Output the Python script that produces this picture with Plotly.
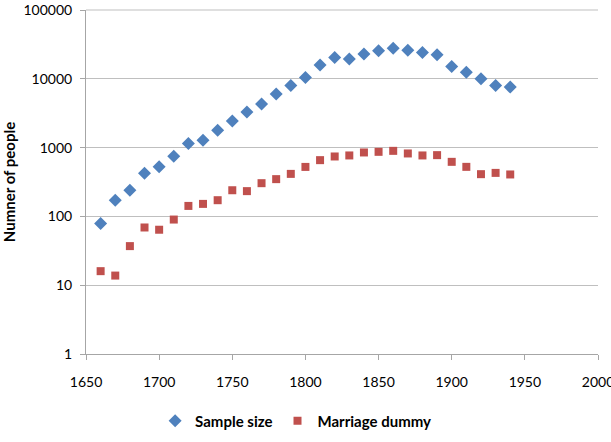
import plotly.graph_objects as go

years = [1660, 1670, 1680, 1690, 1700, 1710, 1720, 1730, 1740, 1750,
         1760, 1770, 1780, 1790, 1800, 1810, 1820, 1830, 1840, 1850,
         1860, 1870, 1880, 1890, 1900, 1910, 1920, 1930, 1940]
sample_size = [79, 172, 240, 425, 525, 750, 1150, 1280, 1790, 2430,
               3280, 4290, 5990, 8020, 10480, 15850, 20400, 19350, 22900, 25500,
               27700, 25900, 24200, 22300, 15150, 12500, 10000, 8020, 7570]
marriage_dummy = [16, 13.8, 37, 69, 64, 90, 142, 152, 172, 240,
                  233, 304, 348, 415, 524, 657, 743, 769, 850, 868,
                  897, 822, 769, 777, 621, 525, 411, 429, 407]
x_ticks = [1650, 1700, 1750, 1800, 1850, 1900, 1950, 2000]
y_ticks = [1, 10, 100, 1000, 10000, 100000]

fig = go.Figure()
fig.add_trace(go.Scatter(x=years, y=sample_size, mode="markers", name="Sample size",
                         marker=dict(symbol="diamond", size=10, color="#4F81BD")))
fig.add_trace(go.Scatter(x=years, y=marriage_dummy, mode="markers", name="Marriage dummy",
                         marker=dict(symbol="square", size=8, color="#C0504D")))

fig.update_layout(
    width=611, height=442,
    margin=dict(l=86, r=13, t=10, b=88, autoexpand=False),
    paper_bgcolor="white", plot_bgcolor="white",
    font=dict(family="Lato, Carlito, sans-serif", size=14, color="black"),
    showlegend=True,
    legend=dict(orientation="h", x=0.135, xanchor="left", y=-0.195, yanchor="middle",
                font=dict(size=15, family="Lato, sans-serif", weight="bold"),
                itemwidth=30, tracegroupgap=0),
)
fig.update_xaxes(range=[1650, 2000], tickvals=x_ticks, showgrid=False,
                 showline=True, linecolor="#A6A6A6", linewidth=1,
                 ticks="outside", ticklen=5, tickcolor="#A6A6A6",
                 zeroline=False, tickfont=dict(size=14), automargin=False,
                 ticklabelstandoff=10, ticklabeloverflow="allow")
fig.update_yaxes(type="log", range=[0, 5], tickvals=y_ticks,
                 ticktext=[str(v) for v in y_ticks],
                 showgrid=True, gridcolor="#BFBFBF", gridwidth=1,
                 showline=True, linecolor="#A6A6A6", linewidth=1,
                 ticks="outside", ticklen=5, tickcolor="#A6A6A6",
                 zeroline=False, tickfont=dict(size=14), automargin=False,
                 ticklabelstandoff=5)

fig.add_annotation(text="<b>Numner of people</b>", textangle=-90,
                   xref="paper", yref="paper", x=-0.15, y=0.5,
                   xanchor="center", yanchor="middle", showarrow=False,
                   font=dict(size=15, family="Lato, sans-serif"))

fig.add_shape(type="line", xref="paper", yref="paper", x0=0, x1=1, y0=1, y1=1,
              line=dict(color="#BFBFBF", width=1))

fig.write_html("out.html")
